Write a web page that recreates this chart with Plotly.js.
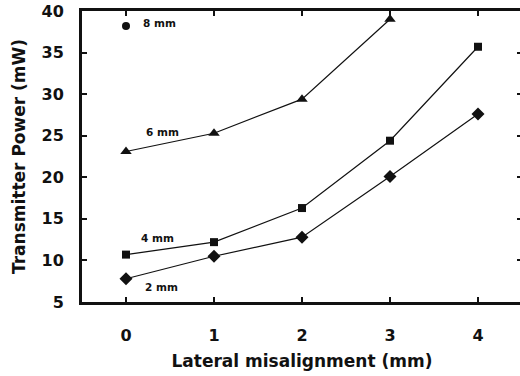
<!DOCTYPE html>
<html>
<head>
<meta charset="utf-8">
<script src="https://cdn.plot.ly/plotly-3.0.1.min.js"></script>
<style>
html, body { margin: 0; padding: 0; overflow: hidden; background: #fff; }
#chart { width: 524px; height: 376px; }
</style>
</head>
<body>
<div id="chart"></div>
<script>
// Data
const misalignment = [0, 1, 2, 3, 4];
const power2mm = [7.8, 10.5, 12.8, 20.1, 27.6];
const power4mm = [10.7, 12.2, 16.3, 24.4, 35.7];
const power6mm = [23.1, 25.3, 29.4, 39.0];
const misalignment6mm = [0, 1, 2, 3];
const misalignment8mm = [0];
const power8mm = [38.2];
const seriesLabels = ['2 mm', '4 mm', '6 mm', '8 mm'];

const lineStyle = { color: '#111', width: 1.2 };
const traces = [
  { x: misalignment, y: power2mm, name: seriesLabels[0], mode: 'lines+markers', line: lineStyle,
    marker: { symbol: 'diamond', size: 10, color: '#111' } },
  { x: misalignment, y: power4mm, name: seriesLabels[1], mode: 'lines+markers', line: lineStyle,
    marker: { symbol: 'square', size: 8, color: '#111' } },
  { x: misalignment6mm, y: power6mm, name: seriesLabels[2], mode: 'lines+markers', line: lineStyle,
    marker: { symbol: 'triangle-up', size: 10, color: '#111' } },
  { x: misalignment8mm, y: power8mm, name: seriesLabels[3], mode: 'markers',
    marker: { symbol: 'circle', size: 8, color: '#111' } }
];

const labelPos = [
  { x: 0.40, y: 6.8 },
  { x: 0.36, y: 12.7 },
  { x: 0.41, y: 25.45 },
  { x: 0.38, y: 38.55 }
];
const annotations = seriesLabels.map((t, i) => ({
  x: labelPos[i].x, y: labelPos[i].y, xref: 'x', yref: 'y', text: t, showarrow: false,
  font: { family: 'DejaVu Sans', size: 10.5, color: '#111', weight: 'bold' }
}));

const tickFont = { family: 'DejaVu Sans', size: 16, color: '#111', weight: 'bold' };
const titleFont = { family: 'DejaVu Sans', size: 17, color: '#111', weight: 'bold' };

const layout = {
  width: 524, height: 376,
  margin: { l: 82, r: 2, t: 11, b: 74 },
  paper_bgcolor: '#fff', plot_bgcolor: '#fff',
  showlegend: false,
  font: { family: 'DejaVu Sans', color: '#111' },
  xaxis: {
    range: [-0.5, 4.5], tickvals: misalignment, ticktext: misalignment.map(String),
    showgrid: false, zeroline: false, showline: true, linecolor: '#111', linewidth: 3,
    mirror: 'ticks', ticks: 'inside', ticklen: 5, tickwidth: 2, tickcolor: '#111',
    tickfont: tickFont, ticklabelstandoff: 17,
    title: { text: 'Lateral misalignment (mm)', font: titleFont, standoff: 11 }
  },
  yaxis: {
    range: [5, 40], tickvals: [5, 10, 15, 20, 25, 30, 35, 40],
    showgrid: false, zeroline: false, showline: true, linecolor: '#111', linewidth: 3,
    mirror: 'ticks', ticks: 'inside', ticklen: 5, tickwidth: 2, tickcolor: '#111',
    tickfont: tickFont, ticklabelstandoff: 12,
    title: { text: 'Transmitter Power (mW)', font: titleFont, standoff: 12 }
  },
  annotations: annotations
};

Plotly.newPlot('chart', traces, layout, { displayModeBar: false, staticPlot: true });
</script>
</body>
</html>
